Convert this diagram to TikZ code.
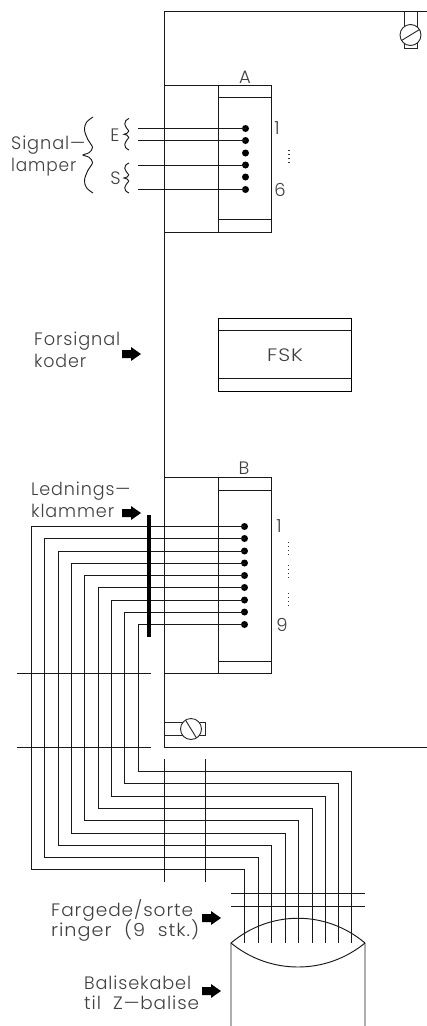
\documentclass[tikz,border=0pt]{standalone}
\usepackage{fontspec}
\usepackage{graphicx}
\newfontfamily\labfont[LetterSpace=5]{Poppins Light}
\newcommand{\blockarrow}[2]{\fill[black] (#1,#2-4) -- (#1+9,#2-4) -- (#1+9,#2-7) -- (#1+19,#2) -- (#1+9,#2+7) -- (#1+9,#2+4) -- (#1,#2+4) -- cycle;}
\newcommand{\tw}[2]{\resizebox{#1pt}{\height}{#2}}
\newcommand{\wavybrace}[4]{% x right, y top, y bottom, width
  \draw[wire] plot[smooth,tension=.6] coordinates {
   (#1,#2)
   (#1-.65*#4,#2+.07*#3-.07*#2)
   (#1-.85*#4,#2+.17*#3-.17*#2)
   (#1-.5*#4,#2+.3*#3-.3*#2)
   (#1-.05*#4,#2+.4*#3-.4*#2)
   (#1-.4*#4,#2+.47*#3-.47*#2)
   (#1-#4,#2+.5*#3-.5*#2)
   (#1-.4*#4,#2+.53*#3-.53*#2)
   (#1-.05*#4,#2+.6*#3-.6*#2)
   (#1-.5*#4,#2+.7*#3-.7*#2)
   (#1-.85*#4,#2+.83*#3-.83*#2)
   (#1-.65*#4,#2+.93*#3-.93*#2)
   (#1,#3)};}
\tikzset{
  x=1pt,y=-1pt,
  thin line/.style={line width=.9pt,black!85},
  wire/.style={line width=.95pt,black!90},
  pin/.style={circle,fill=black,inner sep=0pt,minimum size=7pt},
  lab/.style={inner sep=0pt,anchor=west,text=black!75,font=\labfont\fontsize{18}{20}\selectfont},
  cen/.style={lab,anchor=center},
  clamp/.style={line width=4.5pt,black},
  tiny dots/.style={line width=1.1pt,black!80,dash pattern=on 1pt off 3pt}
}
\begin{document}
\begin{tikzpicture}
\useasboundingbox (0,0) rectangle (427,1026);
% frame
\draw[wire] (427,11.5) -- (164.5,11.5) -- (164.5,660);
\draw[wire] (164.5,660) -- (164.5,747) -- (427,747);
\draw[wire] (164.5,759) -- (164.5,882);
\draw[wire] (205,759) -- (205,882);
\draw[wire] (17,673.7) -- (151,673.7);
\draw[wire] (17,747) -- (151,747);
% lamp top
\draw[thin line] (404,11.5) -- (404,48.5) -- (417,48.5) -- (417,11.5);
\node[circle,draw=black!85,fill=white,line width=.9pt,minimum size=21pt,inner sep=0pt] (lampa) at (410.5,35) {};
\draw[thin line] (lampa.center)+(-9,5.5) -- +(9,-5.5);
% lamp bottom
\draw[thin line] (164.5,722) -- (205,722) -- (205,735) -- (164.5,735);
\node[circle,draw=black!85,fill=white,line width=.9pt,minimum size=21pt,inner sep=0pt] (lampb) at (191,729) {};
\draw[thin line] (lampb.center)+(-5.5,-9) -- +(5.5,9);
% box A
\draw[wire] (164.5,85.5) rectangle (271.5,232.5);
\draw[wire] (218.5,85.5) -- (218.5,232.5);
\draw[wire] (218.5,97.5) -- (271.5,97.5);
\draw[wire] (218.5,219.7) -- (271.5,219.7);
\node[cen] (la) at (245,77) {A};
\foreach \n/\y in {1/128.5,2/140.5,3/153,4/165,5/177,6/189.5}{
  \node[pin] (a\n) at (245.5,\y) {};
  \coordinate (as\n) at (138,\y);
}
\foreach \n in {1,2,4,6}{\draw[wire] (as\n) -- (a\n.center);}
\node[cen] (a1l) at (277,128) {1};
\node[cen] (a6l) at (280,190) {6};
\draw[tiny dots] (289,150) -- (289,163);
\wavybrace{93}{117}{193}{10}
\wavybrace{129}{118.5}{150}{5}
\wavybrace{129}{163}{193}{5}
\node[cen] (le) at (115,135) {E};
\node[cen] (ls) at (115.5,178) {S};
\node[lab] (t1) at (11,145) {\tw{74}{Signal—}};
\node[lab] (t2) at (11,167) {\tw{65}{lamper}};
% FSK
\node[draw=black,line width=.95pt,minimum width=133pt,minimum height=73pt,inner sep=0pt] (fsk) at (285,355) {};
\draw[wire] (218.5,330.5) -- (351.5,330.5);
\draw[wire] (218.5,378.5) -- (351.5,378.5);
\node[cen] (fskl) at (285,355) {\tw{36}{FSK}};
\node[lab] (t3) at (34,341) {\tw{86}{Forsignal}};
\node[lab] (t4) at (34,361) {\tw{52}{koder}};
\blockarrow{122}{354}
% box B
\draw[wire] (164.5,477) -- (271.5,477) -- (271.5,673.7) -- (164.5,673.7);
\draw[wire] (218.5,477) -- (218.5,673.7);
\draw[wire] (218.5,490) -- (271.5,490);
\draw[wire] (218.5,661.5) -- (271.5,661.5);
\node[cen] (lb) at (244,468) {B};
\node[cen] (b1l) at (279,526) {1};
\node[cen] (b9l) at (282,625) {9};
\draw[tiny dots] (288.5,542) -- (288.5,555);
\draw[tiny dots] (288.5,565) -- (288.5,578);
\draw[tiny dots] (288.5,593) -- (288.5,606);
\node[lab] (t5) at (31,491) {\tw{99}{Lednings—}};
\node[lab] (t6) at (31,511) {\tw{83}{klammer}};
\blockarrow{122}{513}
% wires
\foreach \n/\y/\xa/\yb/\xb in {1/526.5/31/869.5/244.5,2/538.5/44.5/857.5/258,3/551/58/845/271.5,4/563/71/833/285,5/575.5/84.5/820.5/298.5,6/587.5/98/808/312,7/600/111.5/796/325,8/612/124.5/783.5/338.5,9/624.5/138/771.5/351.5}{
  \node[pin] (b\n) at (244.5,\y) {};
  \coordinate (c\n) at (\xb,943);
  \draw[wire] (b\n.center) -- (\xa,\y) -- (\xa,\yb) -- (\xb,\yb) -- (c\n);
}
\coordinate (kt) at (149,515);
\coordinate (kb) at (149,636.7);
\draw[clamp] (kt) -- (kb);
% rings and cable
\draw[wire] (231,893.5) -- (365,893.5);
\draw[wire] (231,906.5) -- (365,906.5);
\draw[wire] (231,1026) -- (231,943) .. controls (270,910) and (326,910) .. (365,943) -- (365,1026);
\draw[wire] (231,943) .. controls (270,975) and (326,975) .. (365,943);
\node[lab] (t7) at (51,910) {\tw{142}{Fargede/sorte}};
\node[lab] (t8) at (51,930) {\tw{148}{ringer\hspace{6pt} (9\hspace{6pt} stk.)}};
\blockarrow{202}{918}
\node[lab] (t9) at (84,983) {\tw{107}{Balisekabel}};
\node[lab] (t10) at (84,1003) {\tw{115}{til\hspace{6pt} Z—balise}};
\blockarrow{202}{991}
\end{tikzpicture}
\end{document}
